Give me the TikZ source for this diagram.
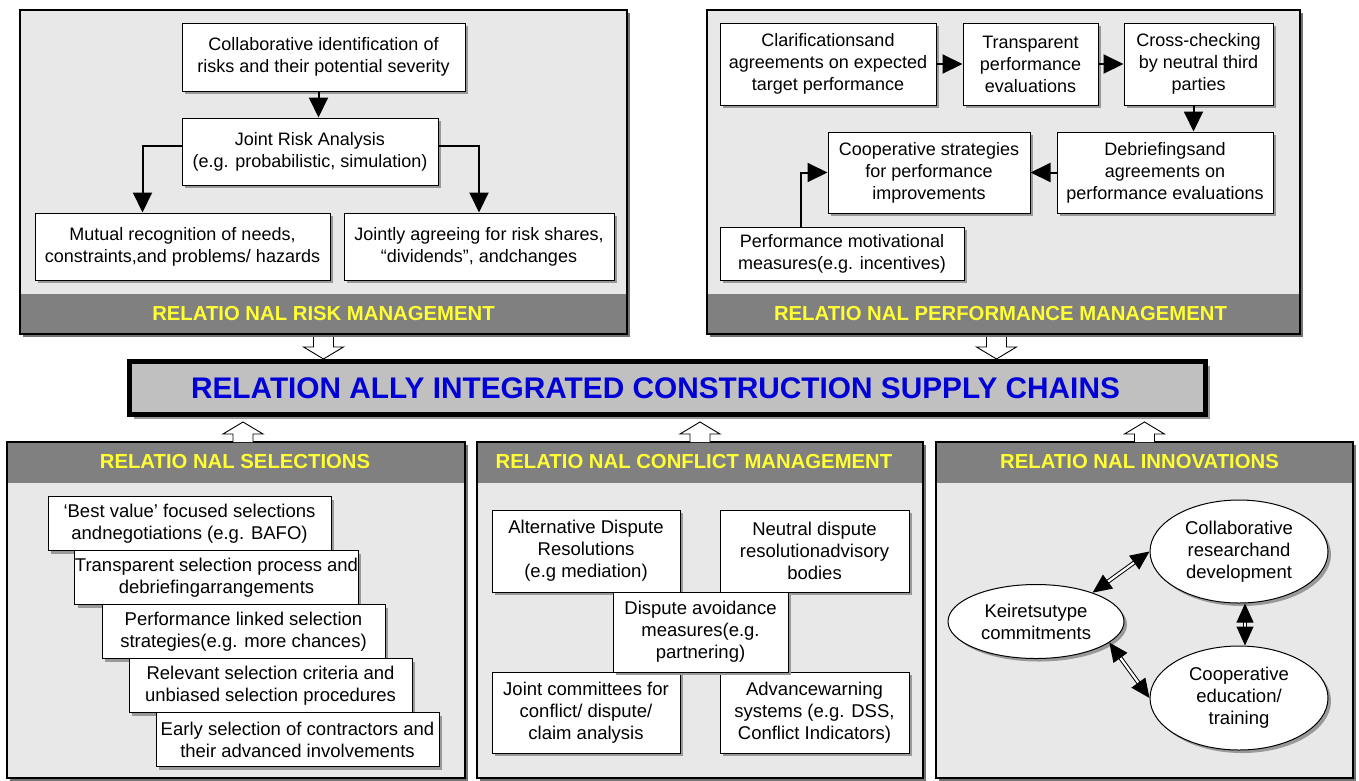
\documentclass[tikz,border=0pt]{standalone}
\usepackage{fontspec}
\setmainfont{Liberation Sans}
\usetikzlibrary{arrows.meta,shadows,shapes.geometric,calc}
\definecolor{panelgray}{RGB}{232,232,232}
\definecolor{bandgray}{RGB}{128,128,128}
\definecolor{titleyellow}{RGB}{255,255,51}
\definecolor{coregray}{RGB}{192,192,192}
\definecolor{coreblue}{RGB}{0,0,215}

% hollow block arrows between the panels and the central bar
\newcommand\hollowdown[2]{\draw[hollow] let \p1=(#1), \p2=(#2) in
  (\x1-10pt,\y1) -- (\x1-10pt,\y2+12pt) -- (\x1-20pt,\y2+12pt) -- (\x1,\y2)
  -- (\x1+20pt,\y2+12pt) -- (\x1+10pt,\y2+12pt) -- (\x1+10pt,\y1);}
\newcommand\hollowup[2]{\draw[hollow] let \p1=(#1), \p2=(#2) in
  (\x1-10pt,\y1) -- (\x1-10pt,\y2-12pt) -- (\x1-20pt,\y2-12pt) -- (\x1,\y2)
  -- (\x1+20pt,\y2-12pt) -- (\x1+10pt,\y2-12pt) -- (\x1+10pt,\y1);}

\begin{document}
\begin{tikzpicture}[x=1pt,y=-1pt,
  panel/.style={draw=black, line width=1.2pt, fill=panelgray, outer sep=0pt, inner sep=0pt,
    drop shadow={shadow xshift=3pt, shadow yshift=-3pt, fill=black!55, opacity=1}},
  bandtitle/.style={text=titleyellow, font=\bfseries\fontsize{20.3}{24}\selectfont, inner sep=0pt},
  box/.style={draw=black, line width=1pt, fill=white, align=center, inner sep=0pt,
    drop shadow={shadow xshift=3pt, shadow yshift=-3pt, fill=black!40, opacity=1},
    font=\fontsize{18}{22}\selectfont},
  sbox/.style={box, font=\fontsize{18.5}{22}\selectfont},
  oval/.style={ellipse, draw=black, line width=1pt, fill=white, align=center, inner sep=0pt,
    drop shadow={shadow xshift=3pt, shadow yshift=-3pt, fill=black!40, opacity=1},
    font=\fontsize{18.5}{22}\selectfont},
  core/.style={draw=black, line width=5pt, fill=coregray, text=coreblue, inner sep=0pt,
    font=\bfseries\fontsize{29.8}{34}\selectfont,
    drop shadow={shadow xshift=4pt, shadow yshift=-4pt, fill=black!40, opacity=1}},
  arr/.style={line width=2pt, -{Triangle[length=20pt,width=19pt]}},
  dbl/.style={double=white, double distance=2.2pt, line width=1pt,
    {Triangle[length=19pt,width=17pt]}-{Triangle[length=19pt,width=17pt]}},
  hollow/.style={draw=black, line width=0.9pt, fill=white}
]
\useasboundingbox (0,0) rectangle (1359,780);

% ---------------- relational risk management ----------------
\node[panel, minimum width=607pt, minimum height=324pt] (rp) at (323.5,172) {};
\fill[bandgray] (rp.south west) rectangle ($(rp.south east)+(0,-40)$);
\draw[line width=1.2pt] (rp.south west) rectangle (rp.north east);
\node[bandtitle] (rpt) at ($(rp.south)+(0,-20)$) {RELATIO NAL RISK MANAGEMENT};

\node[box, minimum width=283pt, minimum height=68pt] (r1) at (323.5,57)
  {Collaborative identification of\\risks and their potential severity};
\node[box, minimum width=256pt, minimum height=67pt] (r2) at (310,151.5)
  {Joint Risk Analysis\\(e.g. probabilistic, simulation)};
\node[box, minimum width=295pt, minimum height=67pt] (r3) at (182.5,246.5)
  {Mutual recognition of needs,\\constraints,and problems/ hazards};
\node[box, minimum width=270pt, minimum height=67pt] (r4) at (479,246.5)
  {Jointly agreeing for risk shares,\\“dividends”, andchanges};
\draw[arr] ([xshift=-5pt]r1.south) -- ([xshift=-5pt]r1.south |- r2.north);
\draw[arr] ([yshift=6pt]r2.west) -| ([xshift=-40pt]r3.north);
\draw[arr] ([yshift=6pt]r2.east) -| (r4.north);

% ---------------- relational performance management ----------------
\node[panel, minimum width=593pt, minimum height=324pt] (pp) at (1003.5,172) {};
\fill[bandgray] (pp.south west) rectangle ($(pp.south east)+(0,-40)$);
\draw[line width=1.2pt] (pp.south west) rectangle (pp.north east);
\node[bandtitle] (ppt) at ($(pp.south)+(-3,-20)$) {RELATIO NAL PERFORMANCE MANAGEMENT};

\node[box, minimum width=216pt, minimum height=82pt] (p1) at (828,64)
  {Clarificationsand\\agreements on expected\\target performance};
\node[box, minimum width=135pt, minimum height=82pt] (p2) at (1030.5,64)
  {Transparent\\performance\\evaluations};
\node[box, minimum width=149pt, minimum height=82pt] (p3) at (1198.5,64)
  {Cross-checking\\by neutral third\\parties};
\node[box, minimum width=216pt, minimum height=81pt] (p4) at (1165,172.5)
  {Debriefingsand\\agreements on\\performance evaluations};
\node[box, minimum width=202pt, minimum height=81pt] (p5) at (929,172.5)
  {Cooperative strategies\\for performance\\improvements};
\node[box, minimum width=244pt, minimum height=53pt] (p6) at (842,253.5)
  {Performance motivational\\measures(e.g. incentives)};
\draw[arr] (p1.east) -- (p2.west);
\draw[arr] (p2.east) -- (p3.west);
\draw[arr] ([xshift=-5pt]p3.south) -- ([xshift=-5pt]p3.south |- p4.north);
\draw[arr] (p4.west) -- (p5.east);
\draw[arr] ([xshift=-41pt]p6.north) |- (p5.west);

% ---------------- central bar ----------------
\node[core, minimum width=1076pt, minimum height=53pt] (core) at (667.5,388)
  {\hspace*{-24pt}RELATION ALLY INTEGRATED CONSTRUCTION SUPPLY CHAINS};

% ---------------- relational selections ----------------
\node[panel, minimum width=458pt, minimum height=336pt] (sp) at (236,610) {};
\fill[bandgray] (sp.north west) rectangle ($(sp.north east)+(0,41)$);
\draw[line width=1.2pt] (sp.south west) rectangle (sp.north east);
\node[bandtitle] (spt) at ($(sp.north)+(-1,20)$) {RELATIO NAL SELECTIONS};

\node[sbox, minimum width=283pt, minimum height=54pt] (s1) at (189.5,523.5)
  {‘Best value’ focused selections\\andnegotiations (e.g. BAFO)};
\node[sbox, minimum width=283pt, minimum height=54pt] (s2) at (216.5,577.5)
  {Transparent selection process and\\debriefingarrangements};
\node[sbox, minimum width=283pt, minimum height=54pt] (s3) at (243.5,631.5)
  {Performance linked selection\\strategies(e.g. more chances)};
\node[sbox, minimum width=283pt, minimum height=54pt] (s4) at (270.5,685.5)
  {Relevant selection criteria and\\unbiased selection procedures};
\node[sbox, minimum width=283pt, minimum height=54pt] (s5) at (297.5,739.5)
  {Early selection of contractors and\\their advanced involvements};

% ---------------- relational conflict management ----------------
\node[panel, minimum width=446pt, minimum height=336pt] (cp) at (700,610) {};
\fill[bandgray] (cp.north west) rectangle ($(cp.north east)+(0,41)$);
\draw[line width=1.2pt] (cp.south west) rectangle (cp.north east);
\node[bandtitle] (cpt) at ($(cp.north)+(-6,20)$) {RELATIO NAL CONFLICT MANAGEMENT};

\node[sbox, minimum width=188pt, minimum height=82pt] (c1) at (586,551)
  {Alternative Dispute\\Resolutions\\(e.g mediation)};
\node[sbox, minimum width=189pt, minimum height=82pt] (c2) at (814.5,551)
  {Neutral dispute\\resolutionadvisory\\bodies};
\node[sbox, minimum width=188pt, minimum height=81pt] (c4) at (586,712.5)
  {Joint committees for\\conflict/ dispute/\\claim analysis};
\node[sbox, minimum width=189pt, minimum height=81pt] (c5) at (814.5,712.5)
  {Advancewarning\\systems (e.g. DSS,\\Conflict Indicators)};
\node[sbox, minimum width=175pt, minimum height=80pt] (c3) at (700.5,632)
  {Dispute avoidance\\measures(e.g.\\partnering)};

% ---------------- relational innovations ----------------
\node[panel, minimum width=417pt, minimum height=336pt] (ip) at (1144.5,610) {};
\fill[bandgray] (ip.north west) rectangle ($(ip.north east)+(0,41)$);
\draw[line width=1.2pt] (ip.south west) rectangle (ip.north east);
\node[bandtitle] (ipt) at ($(ip.north)+(-5,20)$) {RELATIO NAL INNOVATIONS};

\node[oval, minimum width=176pt, minimum height=74pt] (k) at (1036,621.5)
  {Keiretsutype\\commitments};
\node[oval, minimum width=178pt, minimum height=103pt] (rd) at (1239,551.5)
  {Collaborative\\researchand\\development};
\node[oval, minimum width=178pt, minimum height=104pt] (ed) at (1239,698)
  {Cooperative\\education/\\training};
\draw[dbl] (k.27) -- (rd.180);
\draw[dbl] ([xshift=6pt]rd.south) -- ([xshift=6pt]ed.north);
\draw[dbl] (k.-16) -- (ed.180);

% ---------------- block arrows into the central bar ----------------
\hollowdown{$(rp.south)+(0,3)$}{core.north}
\hollowdown{$(pp.south)+(-7,3)$}{core.north}
\hollowup{$(sp.north)+(7,0)$}{$(core.south)+(0,5)$}
\hollowup{cp.north}{$(core.south)+(0,5)$}
\hollowup{ip.north}{$(core.south)+(0,5)$}
\end{tikzpicture}
\end{document}
